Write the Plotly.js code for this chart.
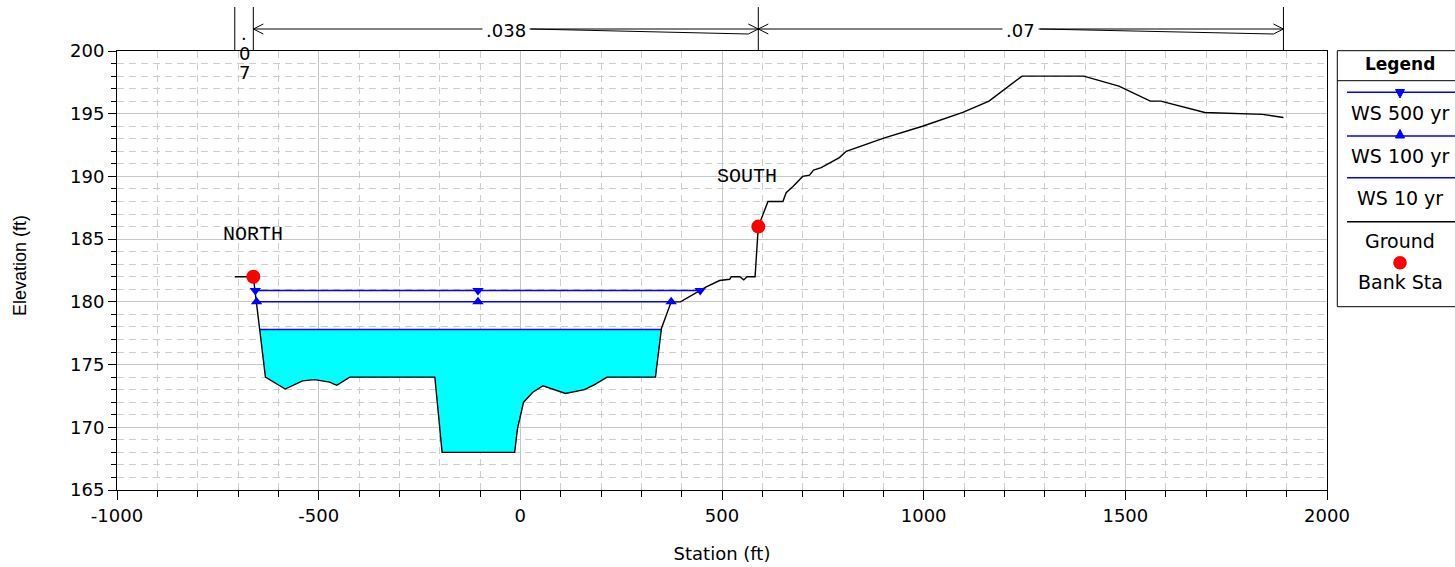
<!DOCTYPE html>
<html>
<head>
<meta charset="utf-8">
<script src="https://cdn.plot.ly/plotly-3.0.1.min.js"></script>
<style>html,body{margin:0;padding:0;background:#fff;}#chart{width:1455px;height:567px;}</style>
</head>
<body>
<div id="chart"></div>
<script>
// ---------------- DATA ----------------
const groundSta  = [-708,-662,-632,-583,-540,-510,-473,-455,-423,-212,-194,-14,-7,8,31,56,112,126,159,184,215,335,350,374,397,461,494,519,523,544,554,562,582,590,614,651,659,676,700,717,727,746,762,791,808,901,997,1097,1162,1244,1397,1484,1562,1588,1697,1797,1840,1892];
const groundElev = [182.0,182.0,174.0,173.05,173.7,173.8,173.6,173.35,174.0,174.0,168.0,168.0,169.9,172.0,172.8,173.3,172.7,172.8,173.0,173.4,174.0,174.0,177.9,180.0,180.0,181.2,181.7,181.8,182.0,182.0,181.75,182.0,182.0,186.0,188.0,188.0,188.7,189.2,190.0,190.1,190.5,190.7,191.0,191.5,192.0,193.05,194.0,195.1,196.0,198.0,198.0,197.2,196.0,196.0,195.1,195.0,194.95,194.7];
const bankSta  = [-662, 590];
const bankElev = [182.0, 186.0];
const ws500Sta  = [-657, -105, 446];
const ws500Elev = [180.9, 180.9, 180.9];
const ws100Sta  = [-654, -105, 374];
const ws100Elev = [180.0, 180.0, 180.0];
const ws10Elev  = 177.8;
const nValues   = ['.07', '.038', '.07'];
const bankLabels = ['NORTH', 'SOUTH'];
const bankLabelSta  = [-662, 561];
const bankLabelElev = [185.4, 190.0];
const legendNames = ['WS 500 yr', 'WS 100 yr', 'WS 10 yr', 'Ground', 'Bank Sta'];
const xTickVals = [-1000, -500, 0, 500, 1000, 1500, 2000];
const xTickText = ['-1000', '-500', '0', '500', '1000', '1500', '2000'];
const yTickVals = [165, 170, 175, 180, 185, 190, 195, 200];
const yTickText = ['165', '170', '175', '180', '185', '190', '195', '200'];
const xTitle = 'Station (ft)';
const yTitle = 'Elevation (ft)';

// ---------------- GEOMETRY HELPERS ----------------
const W = 1455, H = 567, ML = 117, MR = 128, MT = 51, MB = 77;
const PW = W - ML - MR, PH = H - MT - MB;
const xRange = [-1000, 2000], yRange = [165, 200];
const sx = s => ML + (s - xRange[0]) / (xRange[1] - xRange[0]) * PW;
const fx = p => (p - ML) / PW;
const fy = p => (MT + PH - p) / PH;

// water surface 10 yr extent: crossings with ground around the thalweg
let minIdx = 0;
groundElev.forEach((e, i) => { if (e < groundElev[minIdx]) minIdx = i; });
function interp(i, j, elev) {
  const t = (elev - groundElev[i]) / (groundElev[j] - groundElev[i]);
  return groundSta[i] + t * (groundSta[j] - groundSta[i]);
}
let li = minIdx; while (li > 0 && groundElev[li] < ws10Elev) li--;
let ri = minIdx; while (ri < groundSta.length - 1 && groundElev[ri] < ws10Elev) ri++;
const ws10L = interp(li + 1, li, ws10Elev);
const ws10R = interp(ri - 1, ri, ws10Elev);
const polyX = [ws10L], polyY = [ws10Elev];
for (let i = li + 1; i < ri; i++) { polyX.push(groundSta[i]); polyY.push(groundElev[i]); }
polyX.push(ws10R); polyY.push(ws10Elev);

// ---------------- TRACES ----------------
const BLUE = '#0000ff';
const traces = [
  {x: polyX, y: polyY, mode: 'lines', fill: 'toself', fillcolor: '#00ffff', line: {width: 0}, hoverinfo: 'skip', showlegend: false},
  {x: [ws10L, ws10R], y: [ws10Elev, ws10Elev], mode: 'lines', name: legendNames[2], line: {color: BLUE, width: 1.5}},
  {x: groundSta, y: groundElev, mode: 'lines', name: legendNames[3], line: {color: 'black', width: 1.4}},
  {x: ws500Sta, y: ws500Elev, mode: 'lines+markers', name: legendNames[0], line: {color: BLUE, width: 1.5},
   marker: {symbol: 'triangle-down', size: 10, color: BLUE}},
  {x: ws100Sta, y: ws100Elev, mode: 'lines+markers', name: legendNames[1], line: {color: BLUE, width: 1.5},
   marker: {symbol: 'triangle-up', size: 10, color: BLUE}},
  {x: bankSta, y: bankElev, mode: 'markers', name: legendNames[4], marker: {symbol: 'circle', size: 14, color: '#ff0000'}}
];

// ---------------- DECORATIONS ----------------
const shapes = [], annotations = [];
function seg(x0, y0, x1, y1, color, w) {
  shapes.push({type: 'line', xref: 'paper', yref: 'paper', x0: fx(x0), y0: fy(y0), x1: fx(x1), y1: fy(y1),
    line: {color: color || 'black', width: w || 1}});
}
function path(pts, closed, fill, color) {
  const d = 'M ' + pts.map(p => fx(p[0]) + ',' + fy(p[1])).join(' L ') + (closed ? ' Z' : '');
  shapes.push({type: 'path', xref: 'paper', yref: 'paper', path: d,
    fillcolor: fill || 'rgba(0,0,0,0)', line: {color: color || 'black', width: 1}});
}
function txt(px, py, text, font, extra) {
  annotations.push(Object.assign({xref: 'paper', yref: 'paper', x: fx(px), y: fy(py), text: text,
    showarrow: false, xanchor: 'center', yanchor: 'middle', font: font}, extra || {}));
}
const F18 = {family: 'DejaVu Sans', size: 18, color: 'black'};
function textWidth(s, size) {
  let w = 0; for (const c of s) w += (c === '.' ? 0.318 : 0.636); return w * size;
}

// Manning's n regions
const nSta = [groundSta[0], bankSta[0], bankSta[1], groundSta[groundSta.length - 1]];
const nPx = nSta.map(sx);
nPx.forEach(p => seg(p, 7, p, 51));
for (let i = 0; i < nValues.length; i++) {
  const a = nPx[i], b = nPx[i + 1], cx = (a + b) / 2;
  if (b - a < 40) {
    nValues[i].split('').forEach((c, k) => txt(cx, 33 + 20 * k, c, F18));
  } else {
    seg(a, 29, b, 29);
    path([[a + 10, 24], [a, 29], [a + 10, 34]], false);
    path([[b - 10, 24], [b, 29], [b - 10, 34]], false);
    const tw = textWidth(nValues[i], 18);
    seg(cx + tw / 2 + 5, 29, b - 10, 34);
    txt(cx, 30.5, nValues[i], F18, {bgcolor: 'white', borderpad: 3});
  }
}

// Legend box
const lgL = 1337.3, lgR = 1480, lgC = 1400;
shapes.push({type: 'rect', xref: 'paper', yref: 'paper', x0: fx(lgL), x1: fx(lgR), y0: fy(50.7), y1: fy(306.7),
  line: {color: 'black', width: 1}, fillcolor: 'white', layer: 'above'});
seg(lgL, 80.7, lgR, 80.7);
txt(lgC, 64, '<b>Legend</b>', {family: 'DejaVu Sans', size: 17, color: 'black'});
// WS 500
seg(1347, 92.3, lgR, 92.3, BLUE, 1.5);
path([[lgC - 4.5, 89.5], [lgC + 4.5, 89.5], [lgC, 98]], true, BLUE, BLUE);
txt(lgC, 113, legendNames[0], {family: 'DejaVu Sans', size: 19, color: 'black'});
// WS 100
seg(1347, 136, lgR, 136, BLUE, 1.5);
path([[lgC - 4.5, 138], [lgC + 4.5, 138], [lgC, 129.5]], true, BLUE, BLUE);
txt(lgC, 156, legendNames[1], {family: 'DejaVu Sans', size: 19, color: 'black'});
// WS 10
seg(1347, 177.7, lgR, 177.7, BLUE, 1.5);
txt(lgC, 197.5, legendNames[2], {family: 'DejaVu Sans', size: 19, color: 'black'});
// Ground
seg(1347, 221.7, lgR, 221.7, 'black', 1.5);
txt(lgC, 241.5, legendNames[3], {family: 'DejaVu Sans', size: 19, color: 'black'});
// Bank Sta
shapes.push({type: 'circle', xref: 'paper', yref: 'paper', x0: fx(lgC - 6.8), x1: fx(lgC + 6.8), y0: fy(256), y1: fy(269.5),
  fillcolor: '#ff0000', line: {color: '#ff0000', width: 0}});
txt(lgC, 281.5, legendNames[4], {family: 'DejaVu Sans', size: 19, color: 'black'});

// Bank labels
bankLabels.forEach((t, i) => annotations.push({x: bankLabelSta[i], y: bankLabelElev[i], xref: 'x', yref: 'y', text: t,
  showarrow: false, xanchor: 'center', yanchor: 'middle',
  font: {family: '"Liberation Mono", "Courier New", monospace', size: 20, color: 'black'}}));

// Y axis title (rotated)
txt(20, 266, yTitle, {family: 'Liberation Sans', size: 18, color: 'black'}, {textangle: -90});

// ---------------- LAYOUT ----------------
const gridMajor = '#c6c6c6', gridMinor = '#cdcdcd';
const layout = {
  width: W, height: H,
  margin: {l: ML, r: MR, t: MT, b: MB, autoexpand: false},
  paper_bgcolor: 'white', plot_bgcolor: 'white',
  font: F18,
  showlegend: false,
  xaxis: {
    range: xRange, tickmode: 'array', tickvals: xTickVals, ticktext: xTickText,
    ticks: 'outside', ticklen: 9, tickcolor: 'black', tickwidth: 1,
    showline: true, linecolor: 'black', linewidth: 1, mirror: true,
    showgrid: true, gridcolor: gridMajor, gridwidth: 1, zeroline: false,
    tickfont: F18,
    minor: {tick0: -1000, dtick: 100, ticks: 'outside', ticklen: 6, tickcolor: 'black',
      showgrid: true, gridcolor: gridMinor, gridwidth: 1, griddash: '7px,5px'},
    title: {text: xTitle, font: {family: 'DejaVu Sans', size: 18, color: 'black'}, standoff: 22}
  },
  yaxis: {
    range: yRange, tickmode: 'array', tickvals: yTickVals, ticktext: yTickText,
    ticks: 'outside', ticklen: 8, tickcolor: 'black', tickwidth: 1,
    showline: true, linecolor: 'black', linewidth: 1, mirror: true,
    showgrid: true, gridcolor: gridMajor, gridwidth: 1, zeroline: false,
    tickfont: F18,
    minor: {tick0: 165, dtick: 1, ticks: 'outside', ticklen: 5, tickcolor: 'black',
      showgrid: true, gridcolor: gridMinor, gridwidth: 1, griddash: '7px,5px'}
  },
  shapes: shapes,
  annotations: annotations
};

Plotly.newPlot('chart', traces, layout, {displayModeBar: false, staticPlot: true});
</script>
</body>
</html>
